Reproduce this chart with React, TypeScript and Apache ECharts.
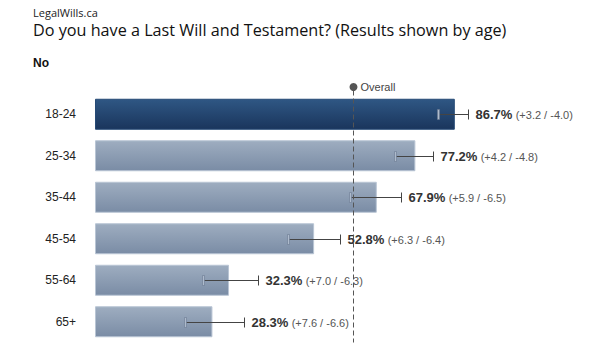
import React, { useEffect, useRef } from "react";
import * as echarts from "echarts";

const categories = ["18-24", "25-34", "35-44", "45-54", "55-64", "65+"];
const values = [86.7, 77.2, 67.9, 52.8, 32.3, 28.3];
const plusErr = [3.2, 4.2, 5.9, 6.3, 7.0, 7.6];
const minusErr = [4.0, 4.8, 6.5, 6.4, 6.3, 6.6];
const overall = 62.1;
const highlightIndex = 0;

export default function App() {
  const ref = useRef<HTMLDivElement>(null);
  useEffect(() => {
    if (!ref.current) return;
    const chart = echarts.init(ref.current, null, { renderer: "svg" });
    const darkGrad = new echarts.graphic.LinearGradient(0, 0, 0, 1, [
      { offset: 0, color: "#2f5784" },
      { offset: 1, color: "#1a355c" },
    ]);
    const lightGrad = new echarts.graphic.LinearGradient(0, 0, 0, 1, [
      { offset: 0, color: "#9eadc0" },
      { offset: 1, color: "#7a8ca5" },
    ]);
    chart.setOption({
      animation: false,
      grid: { left: 95, width: 415, top: 93.5, height: 249 },
      xAxis: { type: "value", min: 0, max: 100, show: false },
      yAxis: {
        type: "category",
        data: categories,
        inverse: true,
        axisLine: { show: false },
        axisTick: { show: false },
        axisLabel: {
          margin: 19,
          fontSize: 12,
          color: "#222",
          fontFamily: "Liberation Sans, Arial, sans-serif",
        },
      },
      graphic: [
        {
          type: "text",
          left: 33,
          top: 6,
          style: {
            text: "LegalWills.ca",
            fontSize: 11,
            lineHeight: 12,
            fill: "#222",
            fontFamily: "Open Sans, sans-serif",
          },
        },
        {
          type: "text",
          left: 33,
          top: 20,
          style: {
            text: "Do you have a Last Will and Testament? (Results shown by age)",
            fontSize: 16.2,
            lineHeight: 19,
            fill: "#111",
            fontFamily: "Open Sans, sans-serif",
          },
        },
        {
          type: "text",
          left: 33,
          top: 57,
          style: {
            text: "No",
            fontSize: 12,
            fontWeight: "bold",
            fill: "#111",
            fontFamily: "Liberation Sans, Arial, sans-serif",
          },
        },
      ],
      series: [
        {
          type: "bar",
          barWidth: 31,
          data: values.map((v, i) => ({
            value: v,
            itemStyle: {
              color: i === highlightIndex ? darkGrad : lightGrad,
              borderColor: i === highlightIndex ? "#264a76" : "#b9c5d4",
              borderWidth: 1,
            },
          })),
          z: 2,
        },
        {
          type: "custom",
          z: 5,
          data: values.map((v, i) => [v, i, plusErr[i], minusErr[i]]),
          renderItem: (params: any, api: any) => {
            const v = api.value(0);
            const i = api.value(1);
            const p = api.value(2);
            const m = api.value(3);
            const lo = api.coord([v - m, i]);
            const hi = api.coord([v + p, i]);
            const y = Math.round(lo[1]) + 0.5;
            const x0 = Math.round(lo[0]) + 0.5;
            const x1 = Math.round(hi[0]) + 0.5;
            return {
              type: "group",
              children: [
                {
                  type: "line",
                  shape: { x1: x0, y1: y, x2: x1, y2: y },
                  style: { stroke: "#444", lineWidth: 1 },
                },
                {
                  type: "line",
                  shape: { x1: x1, y1: y - 5, x2: x1, y2: y + 5 },
                  style: { stroke: "#444", lineWidth: 1 },
                },
                {
                  type: "rect",
                  shape: { x: x0 - 1, y: y - 5, width: 2, height: 10 },
                  style: { fill: "#aebbcc", stroke: "#6a7890", lineWidth: 0.6 },
                },
                {
                  type: "text",
                  x: x1 + 7,
                  y: y,
                  style: {
                    text:
                      "{b|" + v.toFixed(1) + "%} {s|(+" + p.toFixed(1) + " / -" + m.toFixed(1) + ")}",
                    verticalAlign: "middle",
                    rich: {
                      b: {
                        fontSize: 13,
                        fontWeight: "bold",
                        fill: "#333",
                        fontFamily: "Liberation Sans, Arial, sans-serif",
                      },
                      s: {
                        fontSize: 11,
                        fill: "#555",
                        fontFamily: "Liberation Sans, Arial, sans-serif",
                      },
                    },
                  },
                },
              ],
            };
          },
        },
        {
          type: "custom",
          z: 6,
          data: [[overall]],
          renderItem: (params: any, api: any) => {
            const cs = params.coordSys;
            const x = Math.round(api.coord([api.value(0), 0])[0]) + 0.5;
            return {
              type: "group",
              children: [
                {
                  type: "line",
                  shape: { x1: x, y1: cs.y - 3, x2: x, y2: cs.y + cs.height },
                  style: { stroke: "#555", lineWidth: 1, lineDash: [5, 3] },
                },
                {
                  type: "circle",
                  shape: { cx: x, cy: cs.y - 6.5, r: 4 },
                  style: { fill: "#555" },
                },
                {
                  type: "text",
                  x: x + 7,
                  y: cs.y - 6.5,
                  style: {
                    text: "Overall",
                    fontSize: 11,
                    fill: "#444",
                    verticalAlign: "middle",
                    fontFamily: "Liberation Sans, Arial, sans-serif",
                  },
                },
              ],
            };
          },
        },
      ],
    });
    return () => chart.dispose();
  }, []);
  return <div ref={ref} style={{ width: 611, height: 354, position: "absolute", left: 0, top: 0 }} />;
}
